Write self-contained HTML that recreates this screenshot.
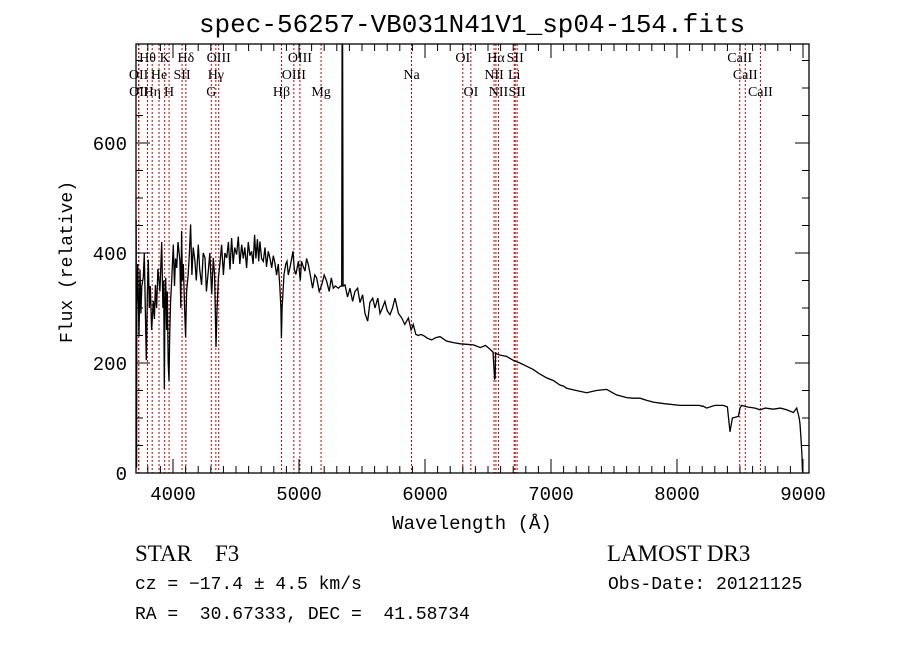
<!DOCTYPE html>
<html><head><meta charset="utf-8">
<style>
html,body{margin:0;padding:0;background:#fff;}
svg{display:block;}
text{fill:#000;white-space:pre;}
.mono{font-family:"Liberation Mono",monospace;}
.serif{font-family:"Liberation Serif",serif;}
</style></head>
<body>
<svg id="chart" width="900" height="649" viewBox="0 0 900 649" xmlns="http://www.w3.org/2000/svg">
<rect width="900" height="649" fill="#fff"/>
<text class="mono" x="472" y="32" font-size="26" text-anchor="middle">spec-56257-VB031N41V1_sp04-154.fits</text>
<g id="lines"></g>
<g id="labels"></g>
<path id="spec" fill="none" stroke="#000" stroke-width="1.3" stroke-linejoin="miter"/>
<rect x="136" y="44" width="673" height="429" fill="none" stroke="#000" stroke-width="1.3"/>
<g id="ticks"></g>
<text class="mono" x="472" y="529" font-size="19" text-anchor="middle">Wavelength (Å)</text>
<text class="mono" x="72" y="262" font-size="18" text-anchor="middle" transform="rotate(-90 72 262)">Flux (relative)</text>
<text class="serif" x="135" y="561" font-size="23">STAR&#160;&#160;&#160;&#160;F3</text>
<text class="serif" x="607" y="561" font-size="23">LAMOST DR3</text>
<text class="mono" x="135" y="589" font-size="18">cz = −17.4 ± 4.5 km/s</text>
<text class="mono" x="608" y="589" font-size="18">Obs-Date: 20121125</text>
<text class="mono" x="135" y="619" font-size="18">RA =&#160;&#160;30.67333, DEC =&#160;&#160;41.58734</text>
</svg>
<script>
const wavelengths=[3707,3711,3713,3720,3730,3738,3745,3752,3764,3772,
3780,3788,3797,3804,3812,3820,3830,3844,3852,3860,
3870,3880,3896,3910,3920,3926,3931,3936,3942,3949,
3955,3962,3968,3974,3981,3990,4002,4012,4020,4029,
4040,4055,4062,4068,4075,4082,4092,4100,4108,4121,
4130,4140,4150,4160,4174,4185,4201,4212,4227,4240,
4254,4265,4280,4292,4307,4320,4330,4341,4350,4360,
4372,4386,4400,4412,4426,4440,4452,4465,4478,4490,
4505,4518,4530,4545,4558,4570,4584,4598,4610,4624,
4636,4648,4658,4670,4680,4690,4703,4717,4730,4742,
4756,4770,4783,4796,4809,4822,4836,4848,4856,4860,
4866,4881,4895,4905,4915,4928,4942,4952,4963,4975,
4995,5010,5020,5034,5048,5060,5074,5090,5108,5125,
5140,5160,5180,5200,5219,5240,5256,5272,5290,5312,
5331,5339,5342,5346,5350,5365,5385,5405,5425,5444,
5465,5484,5505,5524,5545,5563,5585,5603,5625,5643,
5662,5682,5700,5722,5742,5762,5790,5815,5840,5868,
5890,5907,5927,5947,5967,5987,6020,6053,6085,6119,
6170,6225,6280,6330,6384,6440,6480,6516,6540,6552,
6556,6560,6575,6600,6648,6700,6754,6800,6860,6910,
6966,7020,7071,7100,7124,7200,7283,7360,7442,7520,
7601,7650,7706,7760,7812,7900,8024,8120,8180,8200,
8205,8235,8300,8368,8400,8421,8440,8487,8500,8513,
8560,8620,8659,8700,8765,8820,8870,8924,8950,8970,
8976,8985,8992,8995,9000];
const fluxes=[460,10,300,380,250,370,290,340,356,400,
300,205,330,388,300,340,260,313,280,342,
300,371,330,420,300,350,153,300,355,260,
330,200,167,250,313,350,415,340,390,373,
420,386,300,440,350,380,300,247,330,361,
400,452,360,410,386,350,415,370,342,400,
391,330,367,400,325,391,360,229,300,355,
380,415,360,400,391,420,370,427,380,410,
397,430,380,415,390,410,373,420,395,403,
380,433,390,425,385,421,390,385,410,375,
403,390,373,395,382,360,380,340,300,245,
300,361,380,385,360,373,390,403,370,361,
385,350,385,375,367,390,379,360,336,360,
355,330,342,360,349,330,355,336,340,336,
340,340,800,800,340,342,320,336,312,330,
336,310,324,290,276,310,318,300,318,290,
300,312,295,288,300,318,290,282,270,282,
260,270,252,250,252,250,245,242,246,248,
240,237,235,234,233,228,232,225,220,171,
172,218,216,214,212,205,200,195,188,180,
173,168,160,158,154,150,146,150,152,142,
137,136,136,132,129,126,123,123,123,121,
122,118,123,123,120,75,100,103,118,123,
120,118,115,118,116,118,115,110,118,100,
89,60,30,5,0];
const lineWaves=[3727,3729,3798,3835,3889,3934,3969,4072,4102,4304,4340,4363,4861,4959,5007,5175,5893,6300,6364,6548,6563,6583,6708,6716,6731,8498,8542,8662];
const labelTexts=['Hθ','OII','OII','Hη','He','K','H','SII','Hδ','G','Hγ','OIII','Hβ','OIII','OIII','Mg','Na','OI','OI','NII','Hα','NII','Li','SII','SII','CaII','CaII','CaII'];
const labelWaves=[3798,3727,3729,3835,3889,3934,3969,4072,4102,4304,4340,4363,4861,4959,5007,5175,5893,6300,6364,6548,6563,6583,6708,6716,6731,8498,8542,8662];
const labelRows=[0,1,2,2,1,0,2,1,0,2,1,0,2,1,0,2,1,0,2,1,0,2,1,0,2,0,1,2];
const xTicks=[4000,5000,6000,7000,8000,9000];
const yTicks=[0,200,400,600];

const NS='http://www.w3.org/2000/svg';
const X0=136,X1=809,Y0=44,Y1=473;
function xs(w){return 677+(w-8000)*0.126;}
function ys(v){return 473-v*0.55;}
function mk(tag,attrs,parent){const e=document.createElementNS(NS,tag);for(const k in attrs)e.setAttribute(k,attrs[k]);parent.appendChild(e);return e;}

let d='';
const n=Math.min(wavelengths.length,fluxes.length);
for(let i=0;i<n;i++){
  const x=Math.max(X0,Math.min(X1,xs(wavelengths[i])));
  const y=Math.max(Y0,Math.min(Y1,ys(fluxes[i])));
  d+=(i?'L':'M')+x.toFixed(1)+' '+y.toFixed(1);
}
document.getElementById('spec').setAttribute('d',d);

const lg=document.getElementById('lines');
lineWaves.forEach(w=>{
  const x=xs(w);
  const l=mk('line',{x1:x,x2:x,y1:Y0,y2:Y1,stroke:'#c00000','stroke-width':1,'stroke-dasharray':'2,2'},lg);
  
  
});
const lb=document.getElementById('labels');
labelTexts.forEach((t,i)=>{
  const e=mk('text',{x:xs(labelWaves[i]),y:62+labelRows[i]*17,'font-size':14,'text-anchor':'middle',class:'serif'},lb);
  e.textContent=t;
  
  
});

const tg=document.getElementById('ticks');
for(let w=3800;w<=9000;w+=100){
  const x=xs(w);if(x<X0||x>X1)continue;
  const len=(w%1000===0)?14:7;
  mk('line',{x1:x,x2:x,y1:Y1,y2:Y1-len,stroke:'#000','stroke-width':1},tg);
  mk('line',{x1:x,x2:x,y1:Y0,y2:Y0+len,stroke:'#000','stroke-width':1},tg);
}
for(let v=0;v<=750;v+=50){
  const y=ys(v);
  const len=(v%200===0)?14:7;
  mk('line',{x1:X0,x2:X0+len,y1:y,y2:y,stroke:'#000','stroke-width':1},tg);
  mk('line',{x1:X1,x2:X1-len,y1:y,y2:y,stroke:'#000','stroke-width':1},tg);
}
xTicks.forEach(w=>{
  const e=mk('text',{x:xs(w),y:500,'font-size':19,'text-anchor':'middle',class:'mono'},tg);
  e.textContent=w;
  
  
});
yTicks.forEach(v=>{
  const e=mk('text',{x:127,y:ys(v)+7,'font-size':19,'text-anchor':'end',class:'mono'},tg);
  e.textContent=v;
  
  
});
</script>
</body></html>
